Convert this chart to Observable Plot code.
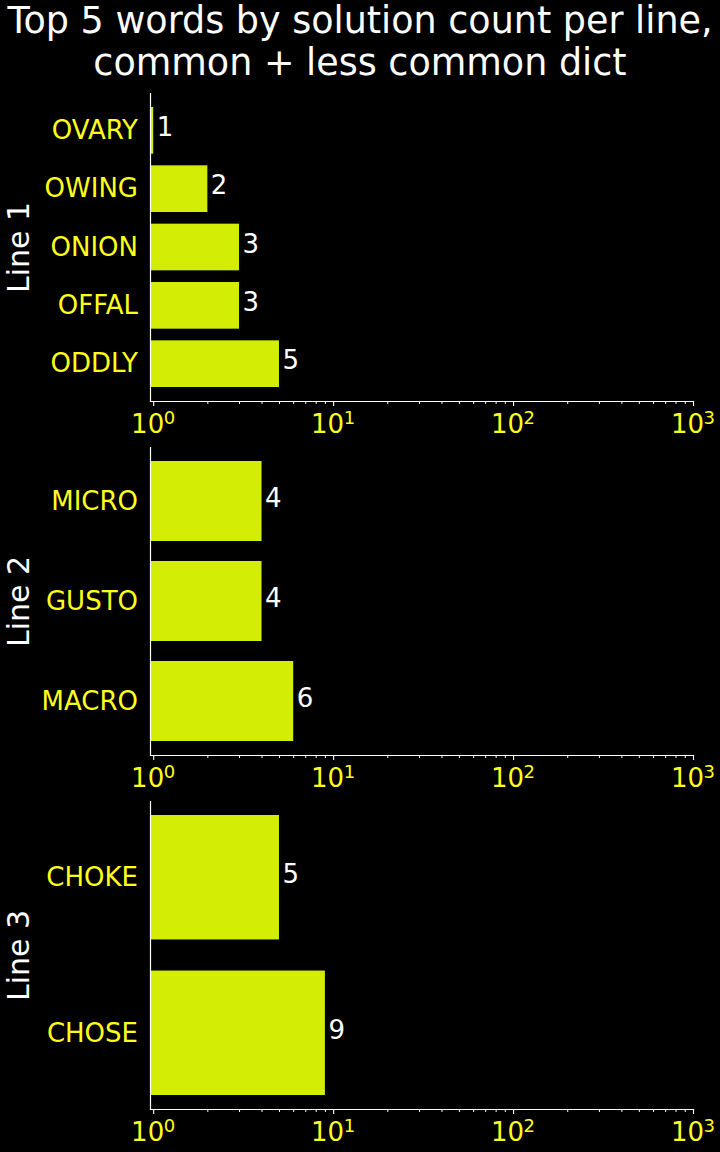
<!DOCTYPE html>
<html>
<head>
<meta charset="utf-8">
<script src="https://cdn.jsdelivr.net/npm/d3@7"></script>
<script src="https://cdn.jsdelivr.net/npm/@observablehq/plot@0.6"></script>
<style>
  html, body { margin: 0; padding: 0; background: #000; }
  #root { width: 720px; height: 1152px; background: #000; overflow: hidden; font-family: "DejaVu Sans", sans-serif; }
  #title { height: 88px; color: #fff; font-size: 36.5px; line-height: 42px; text-align: center; margin: 0; padding: 0; white-space: nowrap; }
  #root svg { display: block; }
</style>
</head>
<body>
<div id="root">
  <div id="title">Top 5 words by solution count per line,<br>common + less common dict</div>
</div>
<script>
// ---- data ----
const panelLabels = ["Line 1", "Line 2", "Line 3"];
const line1Words = ["OVARY", "OWING", "ONION", "OFFAL", "ODDLY"];
const line1Counts = [1, 2, 3, 3, 5];
const line2Words = ["MICRO", "GUSTO", "MACRO"];
const line2Counts = [4, 4, 6];
const line3Words = ["CHOKE", "CHOSE"];
const line3Counts = [5, 9];
const majorTicks = [1, 10, 100, 1000];
const majorTickBase = ["10", "10", "10", "10"];
const majorTickExponent = ["0", "1", "2", "3"];
const minorTicks = [2, 3, 4, 5, 6, 7, 8, 9, 20, 30, 40, 50, 60, 70, 80, 90, 200, 300, 400, 500, 600, 700, 800, 900];
const xDomain = [0.96, 1000];

// ---- style ----
const barColor = "#d4ed05";
const labelYellow = "#ffff1a";
const font = "DejaVu Sans";

function panel(label, words, counts) {
  const data = words.map((w, i) => ({word: w, count: counts[i]}));
  const n = words.length;
  return Plot.plot({
    width: 720,
    height: 354,
    marginTop: 5,
    marginBottom: 41,
    marginLeft: 150,
    marginRight: 27,
    style: {background: "#000", color: "#fff", fontFamily: font, fontSize: "26px", overflow: "visible"},
    x: {type: "log", domain: xDomain},
    y: {domain: words, paddingInner: 0.2, paddingOuter: 0.05 * (n - 0.2), round: false},
    marks: [
      Plot.barX(data, {y: "word", x1: xDomain[0], x2: "count", fill: barColor}),
      Plot.text(data, {y: "word", x: "count", text: d => String(d.count), textAnchor: "start", dx: 3, dy: -3, fill: "#fff", fontSize: 26}),
      Plot.axisY({tickSize: 0, tickPadding: 12.5, fill: labelYellow, fontSize: 26, label: null}),
      // minor and major tick lines
      Plot.axisX({ticks: minorTicks, tickSize: 3, tickFormat: () => "", stroke: "#fff", strokeWidth: 1, label: null}),
      Plot.axisX({ticks: majorTicks, tickSize: 5, tickFormat: () => "", stroke: "#fff", strokeWidth: 1.1, label: null}),
      // major tick labels: base and superscript exponent
      Plot.axisX({ticks: majorTicks, tickSize: 0, tickPadding: 13, tickFormat: d => majorTickBase[majorTicks.indexOf(d)], textAnchor: "end", dx: 10.5, fill: labelYellow, fontSize: 26, label: null}),
      Plot.axisX({ticks: majorTicks, tickSize: 0, tickPadding: 9.5, tickFormat: d => majorTickExponent[majorTicks.indexOf(d)], textAnchor: "start", dx: 10, fill: labelYellow, fontSize: 18, label: null}),
      Plot.frame({anchor: "bottom", stroke: "#fff", strokeWidth: 1.2}),
      Plot.frame({anchor: "left", stroke: "#fff", strokeWidth: 1.2}),
      Plot.text([label], {frameAnchor: "left", dx: -131, rotate: -90, fill: "#fff", fontSize: 30, textAnchor: "middle"})
    ]
  });
}

const root = document.getElementById("root");
root.appendChild(panel(panelLabels[0], line1Words, line1Counts));
root.appendChild(panel(panelLabels[1], line2Words, line2Counts));
root.appendChild(panel(panelLabels[2], line3Words, line3Counts));
</script>
</body>
</html>
